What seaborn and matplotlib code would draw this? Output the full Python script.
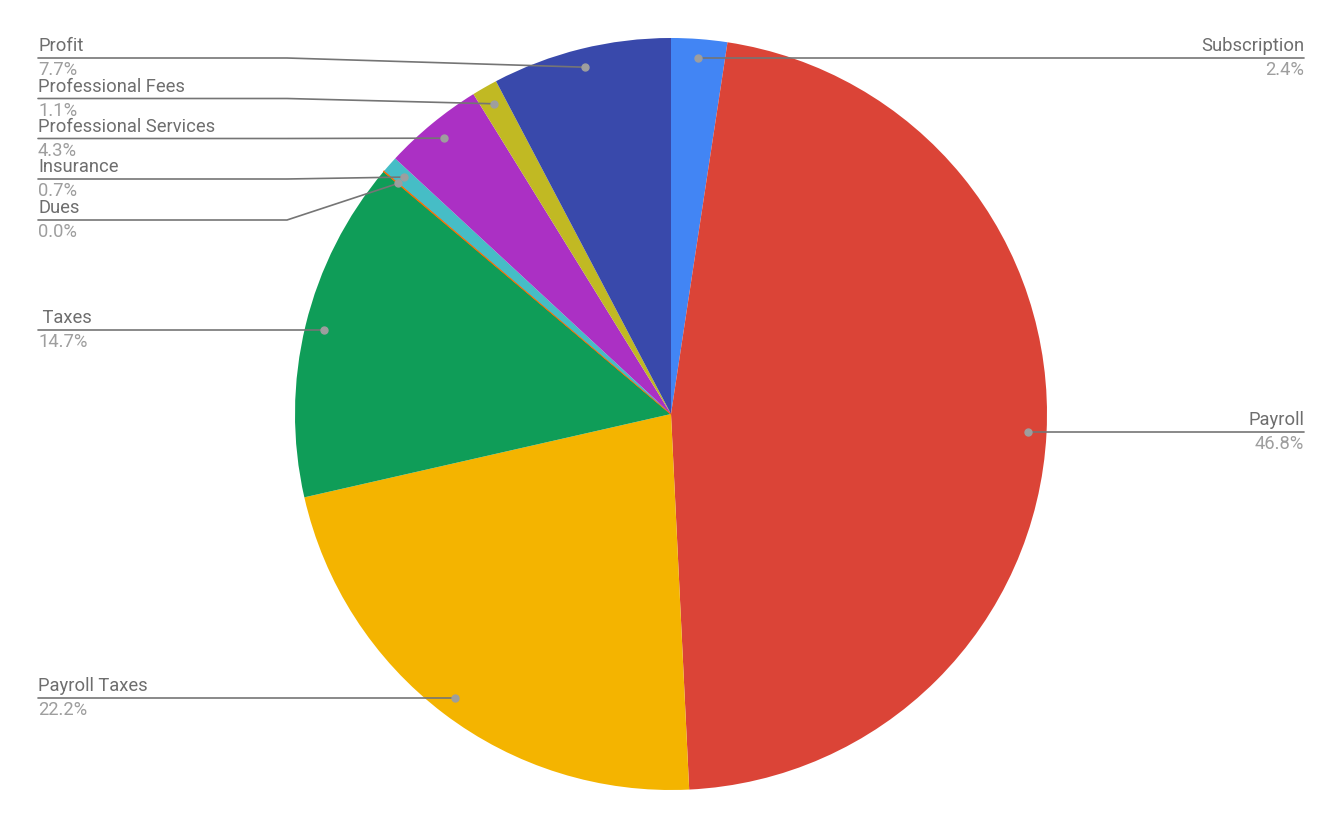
import numpy as np
import seaborn as sns
import matplotlib.pyplot as plt

categories = ['Subscription', 'Payroll', 'Payroll Taxes', ' Taxes', 'Dues',
              'Insurance', 'Professional Services', 'Professional Fees', 'Profit']
shares = [2.4, 46.8, 22.2, 14.7, 0.04, 0.7, 4.3, 1.1, 7.7]
colors = ['#4285f4', '#db4437', '#f4b400', '#0f9d58', '#ff6d00',
          '#46bdc6', '#ab30c4', '#c1b923', '#3949ab']

sns.set_theme(style='white')
plt.rcParams['font.family'] = ['Roboto', 'DejaVu Sans']

W, H = 1342, 818
fig = plt.figure(figsize=(W / 100, H / 100), dpi=100)
ax = fig.add_axes([0, 0, 1, 1])

# pixel-like coordinates, y measured from the bottom
cx, cy, R = 671, H - 414, 376
wedges, _ = ax.pie(shares, colors=colors, startangle=90, counterclock=False,
                   center=(cx, cy), radius=R, frame=True,
                   wedgeprops=dict(linewidth=0))
wedges[4].set_edgecolor('#ff6d00')
wedges[4].set_linewidth(0.8)

ax.set_xlim(0, W)
ax.set_ylim(0, H)
ax.set_aspect('equal')
ax.axis('off')

# label rows (top-down pixel y) for the stacked left-hand labels
left_rows = {'Profit': 58, 'Professional Fees': 98.5, 'Professional Services': 138.5,
             'Insurance': 179, 'Dues': 220}

total = sum(shares)
start = 0
for name, val in zip(categories, shares):
    mid = (start + val / 2) / total * 2 * np.pi
    start += val
    dx, dy = np.sin(mid), np.cos(mid)
    px, py = cx + 0.95 * R * dx, cy + 0.95 * R * dy
    right = dx > 0
    key = name.strip()
    ly = H - left_rows[key] if key in left_rows else py
    if right:
        ax.plot([px, 1304], [py, ly], color='#757575', lw=1.2, zorder=3)
        tx, ha = 1304, 'right'
    else:
        ax.plot([38, 287, px], [ly, ly, py], color='#757575', lw=1.2, zorder=3)
        tx, ha = 38, 'left'
    ax.plot(px, py, 'o', color='#9e9e9e', ms=5, zorder=4)
    ax.text(tx, ly + 3, name, ha=ha, va='bottom', fontsize=13.2, color='#6e6e6e')
    ax.text(tx, ly - 3, f'{val:.1f}%', ha=ha, va='top', fontsize=13.2, color='#9e9e9e')

plt.savefig('out.png', dpi=100)
